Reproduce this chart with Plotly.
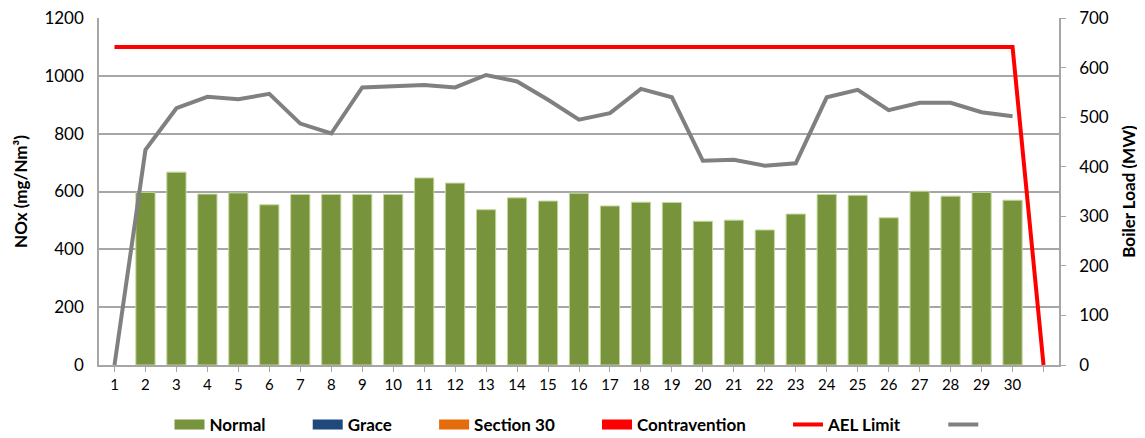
import plotly.graph_objects as go

days = list(range(1, 32))
day_labels = [str(d) for d in range(1, 31)] + [""]

nox_normal = [None, 597, 667, 591, 595, 554, 590, 590, 590, 590, 647, 629, 537, 578, 567,
              594, 550, 563, 562, 497, 501, 467, 522, 590, 587, 509, 601, 584, 597, 570, None]
boiler_load = [0, 434, 518, 541, 536, 547, 487, 467, 560, 562, 565, 560, 585, 572, 535,
               495, 508, 557, 540, 412, 414, 402, 407, 540, 555, 514, 529, 529, 510, 502, None]
ael_limit = [1100, 1100, 1100, 1100, 1100, 1100, 1100, 1100, 1100, 1100, 1100, 1100, 1100, 1100, 1100,
             1100, 1100, 1100, 1100, 1100, 1100, 1100, 1100, 1100, 1100, 1100, 1100, 1100, 1100, 1100, 0]

FONT = "Lato"
GRID = "#A6A6A6"
PAD = "\u00a0" * 9  # extra room between legend entries

fig = go.Figure()

# bars (legend drawn with proxies below, to get the wide swatches)
fig.add_trace(go.Bar(x=days, y=nox_normal, name="Normal", showlegend=False,
                     marker=dict(color="#77933C", line=dict(color="#C4D79B", width=1)),
                     width=0.62))

# legend proxies for the bar series
for nm, col in [("Normal", "#77933C"), ("Grace", "#1F497D"),
                ("Section 30", "#E46C0A"), ("Contravention", "#FF0000")]:
    fig.add_trace(go.Scatter(x=[None], y=[None], mode="lines", name=nm + PAD,
                             line=dict(color=col, width=10)))

fig.add_trace(go.Scatter(x=days, y=ael_limit, mode="lines", name="AEL Limit" + PAD,
                         line=dict(color="#FF0000", width=4)))
fig.add_trace(go.Scatter(x=days, y=boiler_load, mode="lines", name="", yaxis="y2",
                         line=dict(color="#808080", width=4)))

# page body adds an 8px offset, so the figure is 8px smaller than the window
fig.update_layout(
    width=1137, height=430,
    margin=dict(l=91, r=86, t=10, b=73, autoexpand=False),
    plot_bgcolor="white", paper_bgcolor="white",
    font=dict(family=FONT, size=16, color="#000000"),
    showlegend=True,
    legend=dict(orientation="h", x=0.5, xanchor="center", y=-0.173, yanchor="middle",
                font=dict(family=FONT, size=17, weight="bold"), itemwidth=30,
                traceorder="normal"),
    xaxis=dict(range=[0.5, 31.5], tickvals=days, ticktext=day_labels, automargin=False,
               showgrid=False, zeroline=False, showline=True, linecolor=GRID, linewidth=1.5,
               ticks="outside", ticklen=5, tickcolor=GRID,
               tickfont=dict(family=FONT, size=15)),
    yaxis=dict(range=[0, 1200], dtick=200, showgrid=True, gridcolor=GRID, gridwidth=1.5,
               zeroline=False, showline=True, linecolor=GRID, linewidth=1.5, automargin=False,
               ticks="", ticklabelstandoff=10, ticklabeloverflow="allow",
               tickfont=dict(family=FONT, size=17),
               title=dict(text="NOx (mg/Nm³)", font=dict(family=FONT, size=17, weight="bold"),
                          standoff=12)),
    yaxis2=dict(range=[0, 700], dtick=100, overlaying="y", side="right", showgrid=False,
                zeroline=False, showline=True, linecolor=GRID, linewidth=1.5, automargin=False,
                ticks="outside", ticklen=5, tickcolor=GRID, ticklabelstandoff=10,
                ticklabeloverflow="allow",
                tickfont=dict(family=FONT, size=17),
                title=dict(text="Boiler Load (MW)", font=dict(family=FONT, size=17, weight="bold"),
                           standoff=15)),
)

fig.write_html("out.html")
